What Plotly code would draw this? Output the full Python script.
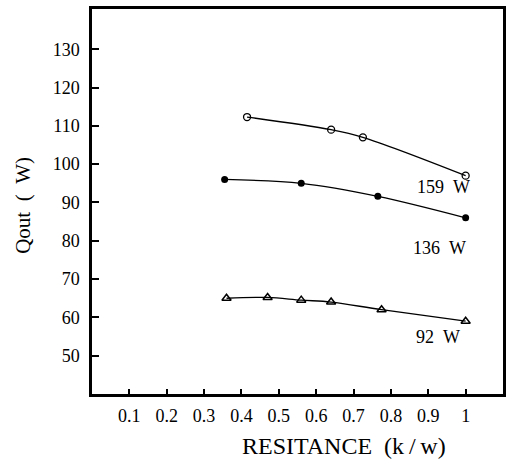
import plotly.graph_objects as go

x159 = [0.415, 0.64, 0.725, 1.0]
y159 = [112.3, 109.0, 107.0, 97.0]
x136 = [0.355, 0.56, 0.765, 1.0]
y136 = [96.0, 95.0, 91.6, 86.0]
x92 = [0.36, 0.47, 0.56, 0.64, 0.775, 1.0]
y92 = [65.0, 65.2, 64.5, 64.0, 62.0, 59.0]
xticks = [0.1, 0.2, 0.3, 0.4, 0.5, 0.6, 0.7, 0.8, 0.9, 1.0]
xtick_text = ["0.1", "0.2", "0.3", "0.4", "0.5", "0.6", "0.7", "0.8", "0.9", "1"]
yticks = [50, 60, 70, 80, 90, 100, 110, 120, 130]
labels = ["159\u2002W", "136\u2002W", "92\u2002W"]
label_pos = [(0.94, 94.0), (0.93, 78.0), (0.925, 55.0)]

FONT = "Liberation Serif"
fig = go.Figure()
fig.add_trace(go.Scatter(x=x159, y=y159, mode="lines+markers", line=dict(color="black", width=1.3, shape="spline"),
                         marker=dict(symbol="circle-open", size=7, color="black", line=dict(width=1.3))))
fig.add_trace(go.Scatter(x=x136, y=y136, mode="lines+markers", line=dict(color="black", width=1.3, shape="spline"),
                         marker=dict(symbol="circle", size=7, color="black")))
fig.add_trace(go.Scatter(x=x92, y=y92, mode="lines+markers", line=dict(color="black", width=1.3, shape="spline"),
                         marker=dict(symbol="triangle-up-open", size=8, color="black", line=dict(width=1.5))))

for t, (lx, ly) in zip(labels, label_pos):
    fig.add_annotation(x=lx, y=ly, text=t, showarrow=False, font=dict(family=FONT, size=18, color="black"))

# axis titles as paper annotations (offset like the original)
fig.add_annotation(x=0.613, y=-(446 - 394) / 387, xref="paper", yref="paper", yanchor="middle",
                   text="RESITANCE\u2002(k\u2009/\u2009w)",
                   showarrow=False, font=dict(family=FONT, size=24, color="black"))
fig.add_annotation(x=-(92 - 23) / 414, y=0.49, xref="paper", yref="paper", xanchor="center",
                   text="Qout\u2002(\u2002W)", textangle=-90,
                   showarrow=False, font=dict(family=FONT, size=21, color="black"))

fig.update_layout(
    width=512, height=465,
    margin=dict(l=92, r=6, t=7, b=71),
    paper_bgcolor="white", plot_bgcolor="white",
    showlegend=False,
    font=dict(family=FONT, size=14, color="black"),
    xaxis=dict(range=[0, 1.1], tickvals=xticks, ticktext=xtick_text, ticks="inside", ticklen=5, tickwidth=1.5,
               tickcolor="black", showline=True, linecolor="black", linewidth=2.5, mirror=True, showgrid=False,
               zeroline=False, tickfont=dict(family=FONT, size=18), ticklabelstandoff=4),
    yaxis=dict(range=[40, 140.5], tickvals=yticks, ticks="inside", ticklen=7, tickwidth=1.5,
               tickcolor="black", showline=True, linecolor="black", linewidth=2.5, mirror=True, showgrid=False,
               zeroline=False, tickfont=dict(family=FONT, size=18), ticklabelstandoff=6),
)
fig.write_html("out.html")
